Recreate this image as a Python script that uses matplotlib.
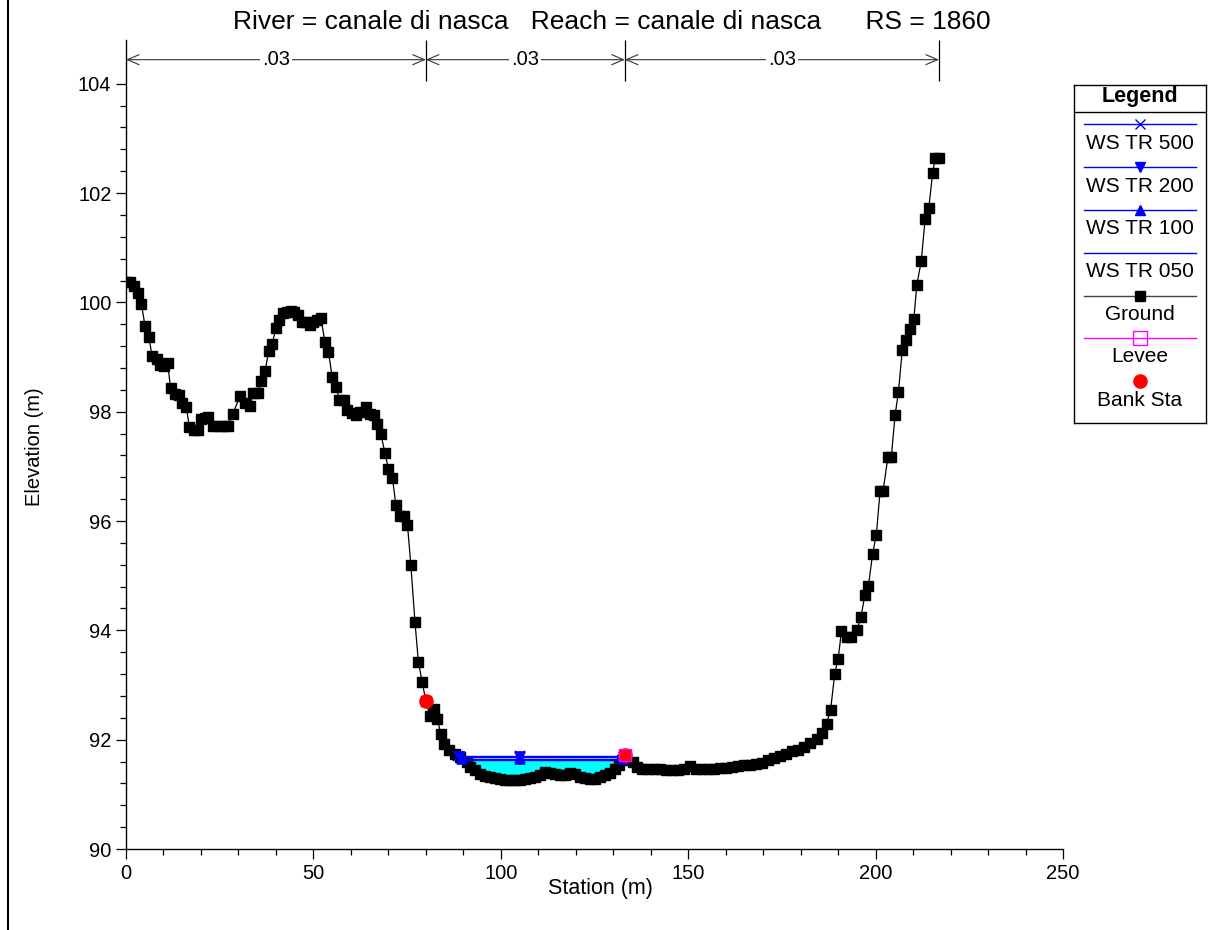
import numpy as np
import matplotlib
matplotlib.use('Agg')
import matplotlib.pyplot as plt
from matplotlib.lines import Line2D
from matplotlib.ticker import MultipleLocator

plt.rcParams['font.family'] = ['Liberation Sans', 'DejaVu Sans']

# ground survey
station = [0.0, 1.1, 2.2, 3.1, 4.1, 5.1, 6.1, 7.0, 8.2, 9.1, 10.1, 11.1, 11.9, 13.1,
           14.1, 15.0, 16.1, 16.9, 18.1, 19.2, 20.0, 21.0, 22.0, 23.3, 24.8, 26.2,
           27.1, 28.5, 30.4, 31.8, 33.1, 34.0, 35.3, 36.0, 37.1, 38.1, 39.0, 40.0,
           40.9, 41.8, 42.9, 44.0, 44.9, 46.0, 46.9, 48.0, 49.1, 50.0, 51.0, 52.0,
           53.1, 54.0, 55.0, 56.0, 56.9, 58.2, 59.0, 60.2, 61.4, 62.4, 64.0, 65.1,
           66.2, 67.0, 68.0, 69.1, 70.0, 71.1, 72.0, 73.1, 74.2, 75.1, 76.0, 77.1,
           78.0, 79.0, 80.0, 81.1, 82.2, 83.1, 84.0, 84.9, 86.3, 87.8, 89.1, 90.9,
           91.9, 93.1, 94.4, 95.8, 97.1, 98.5, 99.8, 101.1, 102.5, 103.8, 105.1,
           106.5, 107.8, 109.1, 110.5, 111.8, 113.1, 114.5, 115.8, 117.1, 118.5,
           119.8, 121.1, 122.5, 123.8, 125.1, 126.5, 127.8, 129.1, 130.5, 131.6,
           132.3, 133.1, 135.2, 136.3, 137.6, 139.3, 140.9, 142.5, 144.1, 145.7,
           147.3, 148.9, 150.5, 152.0, 153.6, 155.2, 156.8, 158.4, 160.0, 161.6,
           163.2, 164.8, 166.4, 168.0, 169.6, 171.2, 172.8, 174.4, 176.0, 177.6,
           179.2, 180.8, 182.4, 184.3, 185.6, 186.9, 188.0, 189.1, 190.0, 190.9,
           192.3, 193.4, 195.0, 196.1, 197.1, 198.1, 199.2, 200.2, 201.2, 202.0,
           203.3, 204.2, 205.2, 206.1, 207.1, 208.1, 209.2, 210.2, 211.0, 212.2,
           213.2, 214.2, 215.2, 215.9, 216.9]
elevation = [100.37, 100.37, 100.30, 100.17, 99.97, 99.56, 99.36, 99.01, 98.96, 98.86,
             98.84, 98.89, 98.43, 98.33, 98.31, 98.16, 98.08, 97.72, 97.67, 97.67,
             97.87, 97.88, 97.91, 97.73, 97.73, 97.73, 97.73, 97.96, 98.28, 98.16,
             98.11, 98.35, 98.35, 98.57, 98.75, 99.11, 99.24, 99.53, 99.68, 99.80,
             99.82, 99.85, 99.82, 99.76, 99.65, 99.65, 99.59, 99.65, 99.67, 99.71,
             99.27, 99.10, 98.64, 98.46, 98.22, 98.22, 98.04, 97.98, 97.94, 98.00,
             98.08, 97.96, 97.94, 97.77, 97.59, 97.24, 96.96, 96.78, 96.30, 96.10,
             96.10, 95.93, 95.20, 94.15, 93.43, 93.06, 92.71, 92.43, 92.56, 92.37,
             92.10, 91.93, 91.82, 91.74, 91.68, 91.60, 91.50, 91.45, 91.38, 91.34,
             91.31, 91.29, 91.28, 91.27, 91.27, 91.27, 91.27, 91.28, 91.29, 91.31,
             91.35, 91.41, 91.39, 91.37, 91.35, 91.35, 91.39, 91.37, 91.31, 91.29,
             91.28, 91.28, 91.31, 91.35, 91.39, 91.46, 91.54, 91.63, 91.72, 91.60,
             91.50, 91.46, 91.46, 91.46, 91.46, 91.45, 91.45, 91.44, 91.47, 91.52,
             91.47, 91.47, 91.46, 91.47, 91.48, 91.49, 91.50, 91.51, 91.53, 91.54,
             91.56, 91.58, 91.62, 91.66, 91.70, 91.73, 91.79, 91.82, 91.86, 91.94,
             92.02, 92.12, 92.29, 92.55, 93.21, 93.48, 93.98, 93.88, 93.88, 94.01,
             94.24, 94.64, 94.82, 95.40, 95.75, 96.55, 96.55, 97.18, 97.18, 97.94,
             98.36, 99.12, 99.31, 99.51, 99.70, 100.32, 100.76, 101.52, 101.73,
             102.36, 102.65, 102.65]

n_breaks = [0.0, 80.0, 133.1, 216.9]
n_values = ['.03', '.03', '.03']

bank_sta = [80.0, 133.1]
bank_elev = [92.71, 91.72]
levee_sta = [133.1]
levee_elev = [91.72]

ws_names = ['WS TR 500', 'WS TR 200', 'WS TR 100', 'WS TR 050']
ws_elev = [91.71, 91.68, 91.65, 91.62]
ws_markers = ['x', 'v', '^', None]
ws_mid_sta = 105.1   # where the middle profile symbol sits


def wet_limits(xs, zs, level):
    xs = np.asarray(xs)
    zs = np.asarray(zs)
    i0 = int(np.argmin(zs))
    i = i0
    while zs[i - 1] < level:
        i -= 1
    xl = np.interp(level, [zs[i], zs[i - 1]], [xs[i], xs[i - 1]])
    j = i0
    while zs[j + 1] < level:
        j += 1
    xr = np.interp(level, [zs[j], zs[j + 1]], [xs[j], xs[j + 1]])
    return xl, xr


fig = plt.figure(figsize=(12.15, 9.3), dpi=100)
ax = fig.add_axes([126 / 1215, 1 - 849 / 930, (1063 - 126) / 1215, (849 - 40) / 930])

# water fill (lowest profile)
xs = np.asarray(station)
zs = np.asarray(elevation)
low = ws_elev[-1]
xl, xr = wet_limits(xs, zs, low)
inside = (xs > xl) & (xs < xr)
fx = np.concatenate([[xl], xs[inside], [xr]])
fz = np.concatenate([[low], zs[inside], [low]])
ax.fill_between(fx, fz, low, color='#00ffff', lw=0, zorder=1)

# ground
ax.plot(station, elevation, color='black', lw=0.9, marker='s', ms=7.8, mfc='black',
        mec='black', zorder=3)

# water surfaces
for lev, mk in zip(ws_elev, ws_markers):
    a, b = wet_limits(xs, zs, lev)
    ax.plot([a, b], [lev, lev], color='#0000ff', lw=1.0, zorder=4)
    if mk is not None:
        ax.plot([a, ws_mid_sta, b], [lev] * 3, ls='none', color='#0000ff', marker=mk,
                ms=7, mew=1.2, zorder=4)

# levee and bank stations
ax.plot(bank_sta, bank_elev, ls='none', marker='o', ms=9.5, color='#ff0000', zorder=5)
ax.plot(levee_sta, levee_elev, ls='none', marker='s', ms=8, mfc='none', mec='#ff00ff',
        mew=1.0, zorder=6)

# manning's n bar along the top
y_n = 104.44
for a, b, lab in zip(n_breaks[:-1], n_breaks[1:], n_values):
    ax.annotate('', xy=(a, y_n), xytext=(b, y_n), annotation_clip=False,
                arrowprops=dict(arrowstyle='<->,head_length=0.7,head_width=0.3',
                                color='#333333', lw=0.8, shrinkA=0, shrinkB=0,
                                mutation_scale=12))
    ax.text((a + b) / 2, y_n, lab, ha='center', va='center', fontsize=14.5,
            bbox=dict(fc='white', ec='none', pad=1.5), clip_on=False, zorder=7)
ax.vlines(n_breaks[1:], 104.05, 104.8, color='black', lw=0.9, clip_on=False)

ax.set_xlim(0, 250)
ax.set_ylim(90, 104.8)
ax.set_yticks(np.arange(90, 105, 2))
ax.set_yticks([t for t in np.arange(90, 104.01, 0.4)], minor=True)
ax.xaxis.set_major_locator(MultipleLocator(50))
ax.xaxis.set_minor_locator(MultipleLocator(10))
ax.tick_params(which='major', direction='out', length=7, width=0.9, labelsize=14.5,
               colors='black')
ax.tick_params(which='minor', direction='out', length=4.5, width=0.9)
for s in ['top', 'right']:
    ax.spines[s].set_visible(False)
for s in ['left', 'bottom']:
    ax.spines[s].set_linewidth(1.0)

fig.text(612 / 1215, 1 - 22 / 930,
         'River = canale di nasca   Reach = canale di nasca      RS = 1860',
         ha='center', va='center', fontsize=19)
fig.text(600 / 1215, 1 - 888 / 930, 'Station (m)', ha='center', va='center',
         fontsize=15.5)
fig.text(35 / 1215, 1 - 447 / 930, 'Elevation (m)', ha='center', va='center',
         rotation=90, fontsize=14.5)

# window border on the left
fig.add_artist(Line2D([8 / 1215, 8 / 1215], [0, 1], color='black', lw=1.5))

# legend box
lax = fig.add_axes([1074 / 1215, 1 - 423 / 930, 132 / 1215, (423 - 85) / 930])
lax.set_xlim(1074, 1206)
lax.set_ylim(423, 85)
lax.set_xticks([])
lax.set_yticks([])
for s in lax.spines.values():
    s.set_linewidth(1.0)
lax.axhline(112.3, color='black', lw=1.0)
lax.text(1140, 97, 'Legend', ha='center', va='center', fontsize=15.5, weight='bold')

entries = [
    ('WS TR 500', '#0000ff', 'x', 'full'),
    ('WS TR 200', '#0000ff', 'v', 'full'),
    ('WS TR 100', '#0000ff', '^', 'full'),
    ('WS TR 050', '#0000ff', None, 'full'),
    ('Ground', '#444444', 's', 'full'),
    ('Levee', '#ff00ff', 's', 'none'),
    ('Bank Sta', '#ff0000', 'o', 'dot'),
]
line_y = [124.3, 167.3, 210, 252.7, 296, 338.3, 381]
label_y = [143.5, 186.5, 229, 271.5, 314, 356.5, 400]
for (name, col, mk, kind), ly, ty in zip(entries, line_y, label_y):
    if kind == 'dot':
        lax.plot([1140], [ly], ls='none', marker='o', ms=9.5, color=col)
    else:
        lax.plot([1084, 1196], [ly, ly], color=col, lw=1.0)
        if mk == 's' and kind == 'none':
            lax.plot([1140], [ly], marker='s', ms=9.5, mfc='none', mec=col, mew=1.0)
        elif mk == 's':
            lax.plot([1140], [ly], marker='s', ms=6.5, color='black')
        elif mk is not None:
            lax.plot([1140], [ly], marker=mk, ms=6.5, color=col, mew=1.0)
    lax.text(1140, ty, name, ha='center', va='center', fontsize=15)

fig.savefig('out.png', dpi=100)
